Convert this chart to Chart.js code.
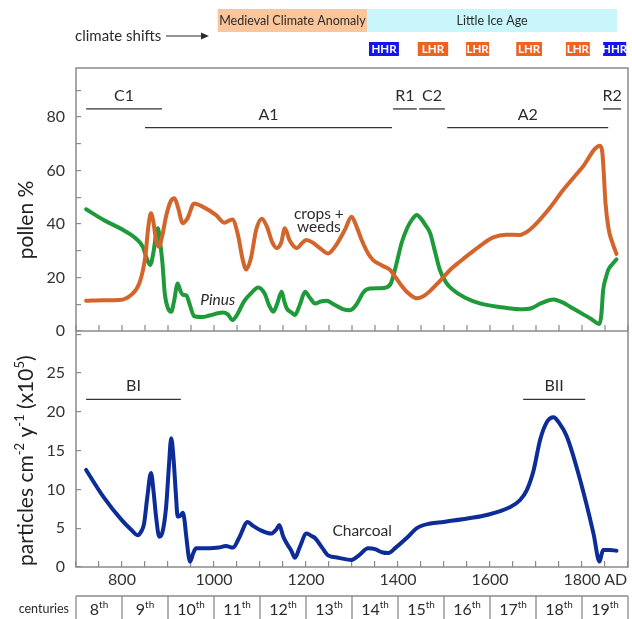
<!DOCTYPE html>
<html>
<head>
<meta charset="utf-8">
<script src="https://cdn.jsdelivr.net/npm/chart.js@4.4.1/dist/chart.umd.min.js"></script>
<style>
  html, body { margin: 0; padding: 0; background: #fff; }
  #wrap { position: relative; width: 632px; height: 619px; }
</style>
</head>
<body>
<div id="wrap"><canvas id="chart" width="632" height="619"></canvas></div>
<script>
// Values (years AD)

// pollen: crops + weeds (%)
const cropsYear = [722, 760, 794, 820, 838, 850, 858, 863, 868, 874, 880, 888, 896, 906, 914, 922, 932, 942, 957, 975,
  1004, 1022, 1040, 1052, 1062, 1070, 1080, 1092, 1104, 1115, 1127, 1136, 1146, 1154, 1164, 1180, 1192, 1201, 1215, 1230,
  1248, 1265, 1285, 1299, 1310, 1321, 1335, 1346, 1365, 1383, 1395, 1404, 1420, 1441, 1455, 1470, 1490, 1513, 1535, 1557,
  1580, 1607, 1635, 1665, 1680, 1694, 1730, 1759, 1800, 1839, 1844, 1847, 1851, 1858, 1866, 1875];
const cropsPct = [11.3, 11.5, 11.6, 13.5, 18, 27, 40, 44, 41, 34, 31.5, 36, 43, 48.5, 49.6, 46, 40.3, 42, 47.7, 46.5,
  43.4, 40.5, 41.7, 36, 27, 23, 27, 38, 42, 39, 33, 31, 33, 38.4, 34, 31, 33, 34, 33, 31,
  29, 32, 38, 42.7, 39, 34, 29, 26.5, 24.5, 22.8, 20, 17.8, 14.5, 12.2, 13, 15, 18.5, 22.8, 26, 29,
  32, 35, 36, 35.9, 37, 39, 46, 52.7, 61, 69.2, 67, 60, 48, 38, 33, 28.8];

// pollen: Pinus (%)
const pinusYear = [722, 760, 800, 830, 845, 853, 861, 868, 874, 878, 883, 888, 893, 900, 907, 913, 921, 927, 932, 940,
  947, 957, 975, 990, 1019, 1030, 1040, 1050, 1065, 1080, 1096, 1110, 1120, 1129, 1137, 1147, 1153, 1158, 1168, 1176,
  1187, 1198, 1208, 1220, 1232, 1245, 1260, 1280, 1296, 1310, 1325, 1339, 1360, 1375, 1385, 1395, 1408, 1420, 1432, 1441,
  1450, 1460, 1470, 1480, 1491, 1505, 1520, 1545, 1578, 1620, 1665, 1690, 1710, 1738, 1760, 1774, 1800, 1820, 1838, 1842,
  1846, 1852, 1857, 1866, 1875];
const pinusPct = [45.5, 41.5, 38, 34.6, 31.5, 27.5, 24.7, 29, 36, 38.4, 33, 25.3, 14, 8.5, 7.2, 11, 17.8, 15, 13.5, 13.3,
  10, 5.5, 5.2, 5.8, 6.9, 6.2, 4.1, 6, 11, 14, 16.3, 14, 9.5, 7.2, 10, 14.7, 11, 8.5, 7, 6,
  10, 14.7, 12.5, 10.3, 11, 11.3, 10, 8.2, 7.8, 10, 14.5, 15.9, 16, 16.3, 18, 24, 33, 38.5, 42, 43.4,
  42, 39.5, 36.5, 30, 22.8, 18, 15.3, 12.5, 10.3, 9, 8.1, 8.5, 10.3, 11.8, 10.5, 9.1, 6.5, 4.5, 2.6, 6,
  15.3, 20, 22.8, 25, 26.8];

// charcoal (particles cm-2 y-1, x10^5)
const charcoalYear = [722, 760, 800, 820, 834, 842, 848, 855, 863, 869, 874, 881, 888, 896, 902, 907, 912, 917, 921, 927,
  932, 936, 939, 948, 955, 961, 990, 1010, 1026, 1041, 1055, 1073, 1085, 1099, 1124, 1135, 1142, 1150, 1158, 1168,
  1176, 1186, 1201, 1212, 1220, 1235, 1248, 1270, 1299, 1315, 1335, 1350, 1365, 1379, 1395, 1420, 1441, 1470, 1499, 1557,
  1593, 1643, 1665, 1680, 1695, 1709, 1725, 1738, 1750, 1767, 1796, 1825, 1838, 1842, 1846, 1860, 1875];
const charcoalFlux = [12.5, 9, 6, 4.8, 4.1, 4.6, 5.6, 9, 12.1, 9.5, 6.5, 3.9, 4.5, 7.8, 13, 16.6, 14, 9.5, 6.5, 6.6,
  7, 6, 4.3, 0.7, 1.8, 2.4, 2.4, 2.5, 2.7, 2.5, 3.8, 5.8, 5.3, 4.8, 4.3, 4.8, 5.4, 4, 3.05, 2.1,
  1.2, 2.5, 4.3, 4, 3.7, 2.5, 1.5, 1.2, 0.9, 1.5, 2.4, 2.3, 1.9, 1.8, 2.5, 3.8, 5, 5.6, 5.8, 6.3,
  6.7, 7.7, 8.6, 9.9, 12.5, 16.4, 18.8, 19.3, 18.6, 16.8, 11.2, 4.3, 0.7, 1.5, 2.2, 2.2, 2.1];

// pollen zones and charcoal phases
const pollenZoneNames = ['C1', 'A1', 'R1', 'C2', 'A2', 'R2'];
const pollenZoneFrom = [722, 850, 1389, 1446, 1507, 1846];
const pollenZoneTo = [887, 1387, 1441, 1502, 1857, 1885];
const pollenZoneLevel = [83, 76, 83, 83, 76, 83];

const charcoalPhaseNames = ['BI', 'BII'];
const charcoalPhaseFrom = [722, 1672];
const charcoalPhaseTo = [928, 1807];
const charcoalPhaseLevel = [21.6, 21.6];

// climate shifts and humidity phases
const climateNames = ['Medieval Climate Anomaly', 'Little Ice Age'];
const climateFrom = [1008, 1333];
const climateTo = [1333, 1876];
const humidityNames = ['HHR', 'LHR', 'LHR', 'LHR', 'LHR', 'HHR'];
const humidityFrom = [1337, 1443, 1548, 1657, 1765, 1846];
const humidityTo = [1402, 1509, 1598, 1713, 1817, 1896];

// axis labels
const xLabelYears = [800, 1000, 1200, 1400, 1600, 1800, 1900];
const xLabels = ['800', '1000', '1200', '1400', '1600', '1800', 'AD'];
const centuryStart = [700, 800, 900, 1000, 1100, 1200, 1300, 1400, 1500, 1600, 1700, 1800];
const centuryLabels = ['8', '9', '10', '11', '12', '13', '14', '15', '16', '17', '18', '19'];

const ORANGE = '#d3642b';
const GREEN = '#1f9a3a';
const BLUE = '#0c2c98';
const FRAME = '#8a8a8a';
const INK = '#2b2b2b';
const FONT = 'Lato';

function pairs(xs, ys) {
  return xs.map((x, i) => ({ x: x, y: ys[i] }));
}

// text with superscript parts, centred on (cx, cy)
function drawRich(ctx, parts, cx, cy, size) {
  const big = size + 'px ' + FONT;
  const small = Math.round(size * 0.62) + 'px ' + FONT;
  let w = 0;
  parts.forEach(([t, sup]) => { ctx.font = sup ? small : big; w += ctx.measureText(t).width; });
  let x = cx - w / 2;
  ctx.textAlign = 'left';
  ctx.textBaseline = 'alphabetic';
  parts.forEach(([t, sup]) => {
    ctx.font = sup ? small : big;
    ctx.fillText(t, x, cy + size * 0.36 - (sup ? size * 0.4 : 0));
    x += ctx.measureText(t).width;
  });
}

function hline(ctx, x0, x1, y) {
  ctx.beginPath();
  ctx.moveTo(x0, y);
  ctx.lineTo(x1, y);
  ctx.stroke();
}

const figurePlugin = {
  id: 'figure',
  beforeDraw(chart) {
    const ctx = chart.ctx;
    const x = chart.scales.x;
    ctx.save();

    // climate shift bands
    const bandColors = ['#fbc69b', '#c9f6fb'];
    climateNames.forEach((name, i) => {
      const x0 = x.getPixelForValue(climateFrom[i]);
      const x1 = x.getPixelForValue(climateTo[i]);
      ctx.fillStyle = bandColors[i];
      ctx.fillRect(x0, 9, x1 - x0, 23);
      ctx.fillStyle = INK;
      ctx.font = '12.5px ' + FONT;
      ctx.textAlign = 'center';
      ctx.textBaseline = 'middle';
      ctx.fillText(name, (x0 + x1) / 2, 20.5);
    });

    // humidity boxes
    humidityNames.forEach((name, i) => {
      const x0 = x.getPixelForValue(humidityFrom[i]);
      const x1 = x.getPixelForValue(humidityTo[i]);
      ctx.fillStyle = name === 'HHR' ? '#1414ee' : '#f0621f';
      ctx.fillRect(x0, 42, x1 - x0, 14);
      ctx.fillStyle = '#fff';
      ctx.font = 'bold 11.5px ' + FONT;
      ctx.textAlign = 'center';
      ctx.textBaseline = 'middle';
      ctx.fillText(name, (x0 + x1) / 2, 49.5);
    });

    // "climate shifts" with arrow
    ctx.fillStyle = INK;
    ctx.font = '15px ' + FONT;
    ctx.textAlign = 'left';
    ctx.textBaseline = 'middle';
    ctx.fillText('climate shifts', 75, 36);
    ctx.strokeStyle = INK;
    ctx.lineWidth = 1.2;
    hline(ctx, 166, 205, 36);
    ctx.beginPath();
    ctx.moveTo(209, 36);
    ctx.lineTo(201, 32.5);
    ctx.lineTo(201, 39.5);
    ctx.closePath();
    ctx.fill();
    ctx.restore();
  },

  afterDatasetsDraw(chart) {
    const ctx = chart.ctx;
    const a = chart.chartArea;
    const x = chart.scales.x;
    const yTop = chart.scales.yTop;
    const yBot = chart.scales.yBot;
    ctx.save();

    // frame and panel separator
    ctx.strokeStyle = FRAME;
    ctx.lineWidth = 1.5;
    ctx.strokeRect(a.left, a.top, a.right - a.left, a.bottom - a.top);
    hline(ctx, a.left, a.right, yTop.bottom);

    // tick marks along the base of the pollen panel
    ctx.lineWidth = 1.2;
    x.ticks.forEach(t => {
      const px = x.getPixelForValue(t.value);
      ctx.beginPath();
      ctx.moveTo(px, yTop.bottom);
      ctx.lineTo(px, yTop.bottom - 6);
      ctx.stroke();
    });

    // zone bars
    ctx.strokeStyle = '#333';
    ctx.fillStyle = INK;
    ctx.lineWidth = 1.3;
    ctx.font = '16px ' + FONT;
    ctx.textAlign = 'center';
    ctx.textBaseline = 'middle';
    const zone = (name, from, to, py) => {
      const x0 = x.getPixelForValue(from);
      const x1 = x.getPixelForValue(to);
      hline(ctx, x0, x1, py);
      ctx.fillText(name, (x0 + x1) / 2, py - 13);
    };
    pollenZoneNames.forEach((n, i) =>
      zone(n, pollenZoneFrom[i], pollenZoneTo[i], yTop.getPixelForValue(pollenZoneLevel[i])));
    charcoalPhaseNames.forEach((n, i) =>
      zone(n, charcoalPhaseFrom[i], charcoalPhaseTo[i], yBot.getPixelForValue(charcoalPhaseLevel[i])));

    // curve labels
    ctx.font = '15.5px ' + FONT;
    ctx.fillText('crops +', x.getPixelForValue(1228), yTop.getPixelForValue(43.7));
    ctx.fillText('weeds', x.getPixelForValue(1228), yTop.getPixelForValue(38.9));
    ctx.fillText('Charcoal', x.getPixelForValue(1322), yBot.getPixelForValue(4.6));
    ctx.font = 'italic 15.5px ' + FONT;
    ctx.fillText('Pinus', x.getPixelForValue(1008), yTop.getPixelForValue(11.6));

    // axis titles
    ctx.fillStyle = '#222';
    ctx.save();
    ctx.translate(25, yTop.getPixelForValue(41.5));
    ctx.rotate(-Math.PI / 2);
    drawRich(ctx, [['pollen %', 0]], 0, 0, 21);
    ctx.restore();
    ctx.save();
    ctx.translate(25, yBot.getPixelForValue(13.7));
    ctx.rotate(-Math.PI / 2);
    drawRich(ctx, [['particles cm', 0], ['-2', 1], [' y', 0], ['-1', 1], [' (x10', 0], ['5', 1], [')', 0]], 0, 0, 21);
    ctx.restore();

    // centuries row
    const rowTop = 596;
    ctx.strokeStyle = FRAME;
    ctx.lineWidth = 1.3;
    hline(ctx, a.left, a.right, rowTop);
    centuryStart.concat([1900]).forEach(c => {
      const px = x.getPixelForValue(c);
      ctx.beginPath();
      ctx.moveTo(px, rowTop);
      ctx.lineTo(px, 625);
      ctx.stroke();
    });
    ctx.fillStyle = INK;
    centuryStart.forEach((c, i) => {
      const cx = (x.getPixelForValue(c) + x.getPixelForValue(c + 100)) / 2;
      drawRich(ctx, [[centuryLabels[i], 0], ['th', 1]], cx, 609, 16);
    });
    ctx.font = '12.5px ' + FONT;
    ctx.textAlign = 'right';
    ctx.textBaseline = 'middle';
    ctx.fillText('centuries', 69, 609);

    ctx.restore();
  }
};

Chart.defaults.font.family = FONT;
Chart.defaults.font.size = 16;
Chart.defaults.color = '#333';

const yAxisWidth = scale => { scale.width = 76; };

new Chart(document.getElementById('chart'), {
  type: 'line',
  data: {
    datasets: [
      {
        label: 'crops + weeds',
        data: pairs(cropsYear, cropsPct),
        yAxisID: 'yTop',
        borderColor: ORANGE,
        borderWidth: 4,
        pointRadius: 0,
        cubicInterpolationMode: 'monotone',
        borderCapStyle: 'round',
        borderJoinStyle: 'round',
        fill: false
      },
      {
        label: 'Pinus',
        data: pairs(pinusYear, pinusPct),
        yAxisID: 'yTop',
        borderColor: GREEN,
        borderWidth: 4,
        pointRadius: 0,
        cubicInterpolationMode: 'monotone',
        borderCapStyle: 'round',
        borderJoinStyle: 'round',
        fill: false
      },
      {
        label: 'Charcoal',
        data: pairs(charcoalYear, charcoalFlux),
        yAxisID: 'yBot',
        borderColor: BLUE,
        borderWidth: 4,
        pointRadius: 0,
        cubicInterpolationMode: 'monotone',
        borderCapStyle: 'round',
        borderJoinStyle: 'round',
        fill: false
      }
    ]
  },
  options: {
    responsive: false,
    animation: false,
    events: [],
    layout: { padding: { top: 68, right: 4, bottom: 0, left: 0 } },
    plugins: {
      legend: { display: false },
      tooltip: { enabled: false }
    },
    scales: {
      x: {
        type: 'linear',
        min: 700,
        max: 1900,
        border: { display: false },
        grid: { drawOnChartArea: false, tickLength: -6, color: FRAME, lineWidth: 1.2 },
        ticks: {
          stepSize: 50,
          autoSkip: false,
          maxRotation: 0,
          padding: 9,
          color: '#333',
          callback: v => {
            const i = xLabelYears.indexOf(v);
            if (i < 0) return '';
            return xLabels[i] === 'AD' ? 'AD      ' : xLabels[i];
          }
        },
        afterFit: scale => {
          scale.paddingLeft = 0;
          scale.paddingRight = 0;
          scale.height = 52;
        }
      },
      yTop: {
        type: 'linear',
        position: 'left',
        stack: 'panels',
        stackWeight: 263,
        weight: 1,
        min: 0,
        max: 98.3,
        border: { display: false },
        grid: { drawOnChartArea: false, tickLength: -5, color: FRAME, lineWidth: 1.2 },
        ticks: {
          stepSize: 10,
          autoSkip: false,
          includeBounds: false,
          padding: 16,
          callback: v => (v % 20 === 0 ? String(v) : '')
        },
        afterFit: yAxisWidth
      },
      yBot: {
        type: 'linear',
        position: 'left',
        stack: 'panels',
        stackWeight: 236,
        weight: 0,
        min: 0,
        max: 30.4,
        border: { display: false },
        grid: { drawOnChartArea: false, tickLength: -5, color: FRAME, lineWidth: 1.2 },
        ticks: {
          stepSize: 5,
          autoSkip: false,
          includeBounds: false,
          padding: 16,
          callback: v => (v <= 25 ? String(v) : '')
        },
        afterFit: yAxisWidth
      }
    }
  },
  plugins: [figurePlugin]
});
</script>
</body>
</html>
